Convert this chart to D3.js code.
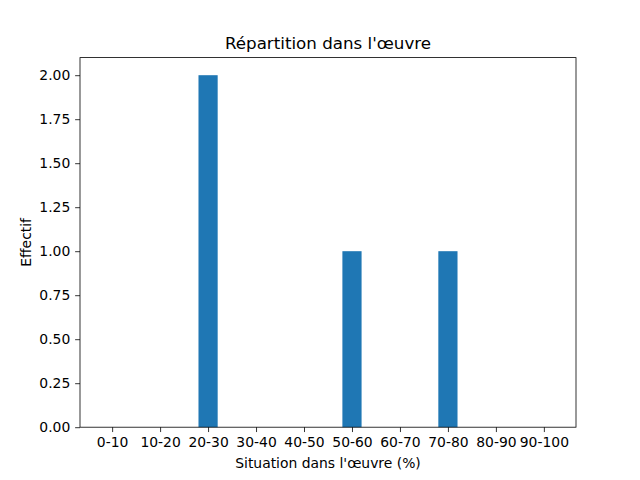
<!DOCTYPE html>
<html>
<head>
<meta charset="utf-8">
<script src="https://cdn.jsdelivr.net/npm/d3@7"></script>
<style>
  body { margin: 0; background: #fff; }
  text { font-family: "DejaVu Sans", sans-serif; fill: #000; }
</style>
</head>
<body>
<div id="chart"></div>
<script>
//Data
var categories = ["0-10", "10-20", "20-30", "30-40", "40-50", "50-60", "60-70", "70-80", "80-90", "90-100"];
var counts = [0, 0, 2, 0, 0, 1, 0, 1, 0, 0];
var yTicks = [0, 0.25, 0.5, 0.75, 1.0, 1.25, 1.5, 1.75, 2.0];

var totalWidth = 640, totalHeight = 480;
var margin = {top: 57.6, right: 64, bottom: 52.8, left: 80};
var width = totalWidth - margin.left - margin.right,
	height = totalHeight - margin.top - margin.bottom;

var svg = d3.select("#chart").append("svg")
	.attr("width", totalWidth)
	.attr("height", totalHeight)
	.append("g")
	.attr("transform", "translate(" + margin.left + "," + margin.top + ")");

//Bars of width 0.4 centred on index, 5% margins like matplotlib
var barW = 0.4;
var xMin = -barW/2, xMax = categories.length - 1 + barW/2;
var pad = (xMax - xMin) * 0.05;
var x = d3.scaleLinear().domain([xMin - pad, xMax + pad]).range([0, width]);
var y = d3.scaleLinear().domain([0, d3.max(counts) * 1.05]).range([height, 0]);

//Bars
svg.selectAll(".bar")
	.data(counts)
	.enter().append("rect")
	.attr("class", "bar")
	.attr("x", function(d,i) { return x(i - barW/2); })
	.attr("width", function(d,i) { return x(i + barW/2) - x(i - barW/2); })
	.attr("y", function(d) { return y(d); })
	.attr("height", function(d) { return height - y(d); })
	.style("fill", "#1f77b4");

//Axes (3.5pt ticks and padding at 100 dpi)
var tick = 4.86;
var xAxis = d3.axisBottom(x)
	.tickValues(d3.range(categories.length))
	.tickFormat(function(i) { return categories[i]; })
	.tickSize(tick).tickPadding(tick);
var yAxis = d3.axisLeft(y)
	.tickValues(yTicks)
	.tickFormat(d3.format(".2f"))
	.tickSize(tick).tickPadding(tick);

var gx = svg.append("g").attr("transform", "translate(0," + height + ")").call(xAxis);
var gy = svg.append("g").call(yAxis);
[gx, gy].forEach(function(g) {
	g.select(".domain").remove();
	g.selectAll("text").style("font-size", "13.9px").style("font-family", "DejaVu Sans, sans-serif");
	g.selectAll("line").style("stroke", "#000").style("stroke-width", 0.8);
});

//Frame
svg.append("rect")
	.attr("width", width).attr("height", height)
	.style("fill", "none").style("stroke", "#000").style("stroke-width", 0.8);

//Labels
svg.append("text")
	.attr("x", width/2).attr("y", -8.3)
	.attr("text-anchor", "middle")
	.style("font-size", "16.7px")
	.text("Répartition dans l'œuvre");

svg.append("text")
	.attr("x", width/2).attr("y", height + 40.5)
	.attr("text-anchor", "middle")
	.style("font-size", "13.9px")
	.text("Situation dans l'œuvre (%)");

svg.append("text")
	.attr("transform", "translate(" + (-49) + "," + (height/2) + ") rotate(-90)")
	.attr("text-anchor", "middle")
	.style("font-size", "13.9px")
	.text("Effectif");
</script>
</body>
</html>
